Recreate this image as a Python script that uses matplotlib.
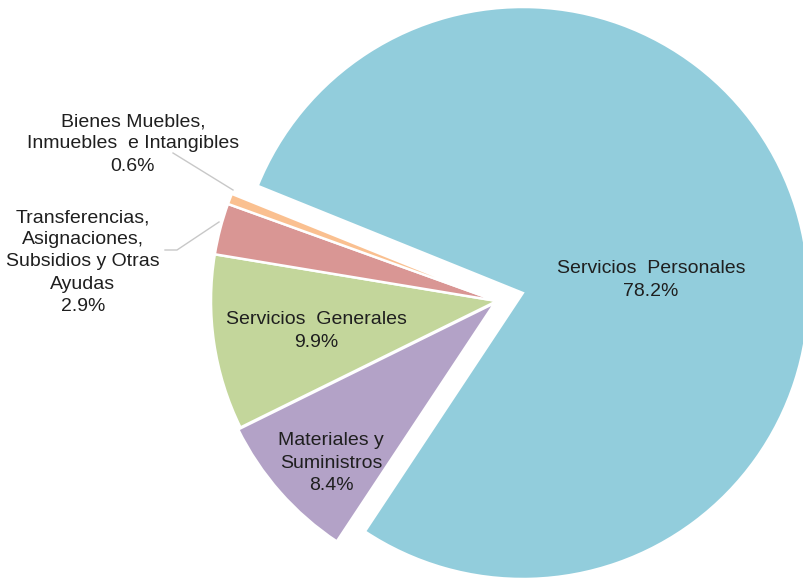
import matplotlib.pyplot as plt

# datos del presupuesto por capitulo de gasto
categorias = ['Servicios Personales', 'Materiales y Suministros', 'Servicios Generales',
              'Transferencias, Asignaciones, Subsidios y Otras Ayudas',
              'Bienes Muebles, Inmuebles e Intangibles']
porcentajes = [78.2, 8.4, 9.9, 2.9, 0.6]
etiquetas = ['Servicios  Personales', 'Materiales y\nSuministros', 'Servicios  Generales',
             'Transferencias,\nAsignaciones,\nSubsidios y Otras\nAyudas',
             'Bienes Muebles,\nInmuebles  e Intangibles']
colores = ['#92CDDC', '#B3A2C7', '#C3D69B', '#D99694', '#FAC090']

plt.rcParams['font.family'] = ['Liberation Sans', 'DejaVu Sans']

fig = plt.figure(figsize=(8.04, 5.84), dpi=100)
ax = fig.add_axes([0, 0, 1, 1])

# coordenadas en pixeles
cx, cy, r = 497, 283, 286
wedges, _ = ax.pie(porcentajes, colors=colores, startangle=158, counterclock=False,
                   center=(cx, cy), radius=r, explode=[27, 3, 0, 0, 0],
                   wedgeprops=dict(edgecolor='white', linewidth=1.8))
ax.set_xlim(0, 804)
ax.set_ylim(0, 584)
ax.set_aspect('equal')
ax.axis('off')

col_txt = '#1f1f1f'
fs = 14
kw = dict(ha='center', va='center', fontsize=fs, color=col_txt, linespacing=1.4)
ax.text(651, 304, etiquetas[0] + '\n' + f'{porcentajes[0]}%', **kw)
ax.text(316, 253, etiquetas[2] + '\n' + f'{porcentajes[2]}%', **kw)
ax.text(331, 121, etiquetas[1] + '\n' + f'{porcentajes[1]}%', **kw)
ax.text(133, 440, etiquetas[4] + '\n' + f'{porcentajes[4]}%', **kw)
ax.text(83, 322, etiquetas[3] + '\n' + f'{porcentajes[3]}%', **kw)

# lineas guia
ax.plot([173, 233], [431, 394], color='#c8c8c8', lw=1)
ax.plot([165, 177, 219], [334, 334, 362], color='#c8c8c8', lw=1)

fig.savefig('out.png', dpi=100)
